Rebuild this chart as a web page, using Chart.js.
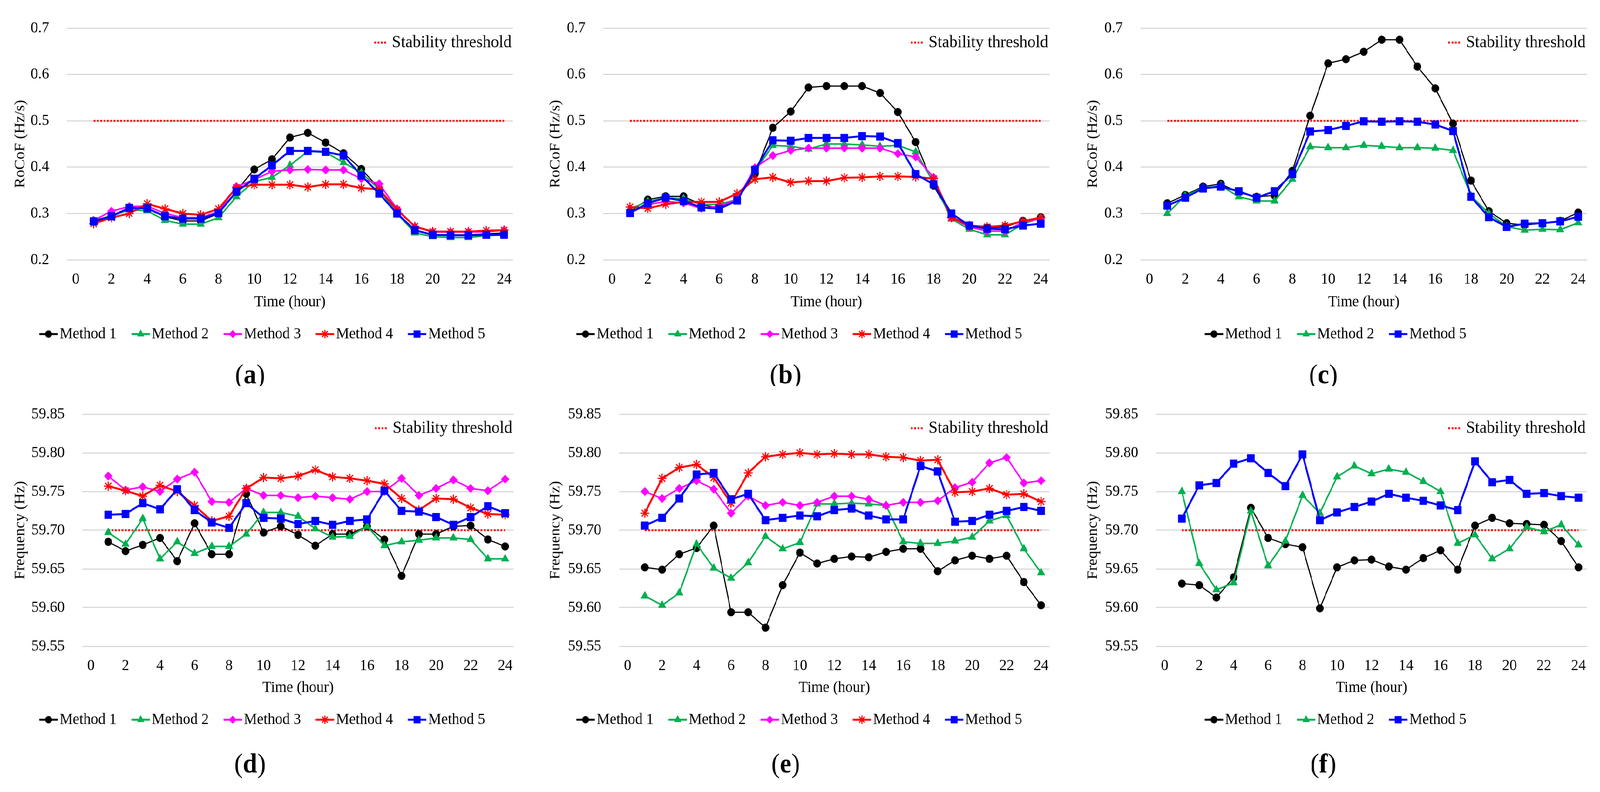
<!DOCTYPE html>
<html>
<head>
<meta charset="utf-8">
<title>RoCoF and frequency per method</title>
<script src="https://cdn.jsdelivr.net/npm/chart.js@4.4.1/dist/chart.umd.min.js"></script>
<style>
  html, body { margin: 0; padding: 0; background: #ffffff; overflow: hidden; }
  #figure { position: relative; width: 4332px; height: 2027px; background: #ffffff; transform-origin: 0 0; }
  #figure canvas { position: absolute; }
</style>
</head>
<body>
<div id="figure">
  <canvas id="chartA" width="1444" height="988" style="left:0px;top:0px"></canvas>
  <canvas id="chartB" width="1444" height="988" style="left:1444px;top:0px"></canvas>
  <canvas id="chartC" width="1444" height="988" style="left:2888px;top:0px"></canvas>
  <canvas id="chartD" width="1444" height="1039" style="left:0px;top:988px"></canvas>
  <canvas id="chartE" width="1444" height="1039" style="left:1444px;top:988px"></canvas>
  <canvas id="chartF" width="1444" height="1039" style="left:2888px;top:988px"></canvas>
</div>
<script>
// ---- data ----
var hours = [1, 2, 3, 4, 5, 6, 7, 8, 9, 10, 11, 12, 13, 14, 15, 16, 17, 18, 19, 20, 21, 22, 23, 24];
var xTicks = [0, 2, 4, 6, 8, 10, 12, 14, 16, 18, 20, 22, 24];
var rocofTicks = [0.2, 0.3, 0.4, 0.5, 0.6, 0.7];
var freqTicks = [59.55, 59.60, 59.65, 59.70, 59.75, 59.80, 59.85];
var rocofLimit = 0.5;
var freqLimit = 59.70;
var methodNames = ['Method 1', 'Method 2', 'Method 3', 'Method 4', 'Method 5'];

// (a) RoCoF
var rocofA1 = [0.284, 0.295, 0.313, 0.311, 0.293, 0.284, 0.284, 0.300, 0.349, 0.395, 0.417, 0.464, 0.474, 0.453, 0.430, 0.396, 0.354, 0.300, 0.263, 0.254, 0.254, 0.254, 0.256, 0.258];
var rocofA2 = [0.285, 0.295, 0.308, 0.306, 0.285, 0.277, 0.277, 0.291, 0.336, 0.369, 0.378, 0.404, 0.434, 0.432, 0.410, 0.388, 0.352, 0.300, 0.258, 0.250, 0.248, 0.248, 0.252, 0.254];
var rocofA3 = [0.285, 0.305, 0.315, 0.316, 0.300, 0.291, 0.291, 0.304, 0.358, 0.373, 0.391, 0.394, 0.395, 0.394, 0.394, 0.375, 0.364, 0.310, 0.271, 0.260, 0.260, 0.260, 0.260, 0.264];
var rocofA4 = [0.278, 0.291, 0.300, 0.321, 0.310, 0.300, 0.297, 0.310, 0.356, 0.362, 0.362, 0.362, 0.357, 0.363, 0.363, 0.355, 0.352, 0.308, 0.272, 0.261, 0.261, 0.261, 0.263, 0.264];
var rocofA5 = [0.283, 0.294, 0.312, 0.311, 0.294, 0.289, 0.289, 0.301, 0.347, 0.375, 0.404, 0.435, 0.435, 0.433, 0.425, 0.382, 0.343, 0.300, 0.264, 0.254, 0.253, 0.253, 0.254, 0.254];

// (b) RoCoF
var rocofB1 = [0.304, 0.330, 0.337, 0.337, 0.319, 0.312, 0.330, 0.386, 0.485, 0.520, 0.572, 0.575, 0.575, 0.575, 0.560, 0.519, 0.454, 0.360, 0.293, 0.274, 0.269, 0.271, 0.284, 0.292];
var rocofB2 = [0.310, 0.326, 0.334, 0.332, 0.319, 0.320, 0.330, 0.391, 0.447, 0.445, 0.439, 0.450, 0.450, 0.448, 0.445, 0.447, 0.433, 0.367, 0.288, 0.266, 0.254, 0.254, 0.277, 0.291];
var rocofB3 = [0.302, 0.319, 0.326, 0.323, 0.311, 0.316, 0.330, 0.399, 0.425, 0.436, 0.441, 0.441, 0.441, 0.441, 0.441, 0.429, 0.422, 0.378, 0.291, 0.271, 0.262, 0.262, 0.281, 0.289];
var rocofB4 = [0.314, 0.311, 0.320, 0.325, 0.325, 0.325, 0.343, 0.374, 0.378, 0.367, 0.370, 0.370, 0.377, 0.378, 0.380, 0.380, 0.379, 0.375, 0.291, 0.274, 0.271, 0.274, 0.283, 0.291];
var rocofB5 = [0.301, 0.322, 0.334, 0.327, 0.313, 0.310, 0.328, 0.394, 0.458, 0.457, 0.463, 0.463, 0.463, 0.467, 0.466, 0.452, 0.385, 0.363, 0.300, 0.274, 0.267, 0.266, 0.274, 0.278];

// (c) RoCoF
var rocofC1 = [0.322, 0.340, 0.358, 0.364, 0.345, 0.336, 0.339, 0.392, 0.511, 0.624, 0.633, 0.649, 0.675, 0.675, 0.617, 0.570, 0.494, 0.371, 0.305, 0.279, 0.275, 0.279, 0.284, 0.302];
var rocofC2 = [0.300, 0.338, 0.355, 0.360, 0.336, 0.327, 0.327, 0.374, 0.444, 0.442, 0.442, 0.447, 0.445, 0.442, 0.442, 0.441, 0.436, 0.338, 0.300, 0.272, 0.264, 0.266, 0.265, 0.280];
var rocofC5 = [0.317, 0.334, 0.354, 0.358, 0.348, 0.334, 0.348, 0.385, 0.477, 0.480, 0.489, 0.499, 0.498, 0.499, 0.498, 0.492, 0.478, 0.336, 0.292, 0.271, 0.278, 0.279, 0.283, 0.293];

// (d) frequency
var freqD1 = [59.685, 59.673, 59.681, 59.690, 59.660, 59.709, 59.669, 59.669, 59.747, 59.697, 59.705, 59.694, 59.680, 59.695, 59.695, 59.705, 59.688, 59.641, 59.695, 59.695, 59.705, 59.706, 59.688, 59.679];
var freqD2 = [59.697, 59.682, 59.715, 59.663, 59.685, 59.670, 59.679, 59.679, 59.695, 59.723, 59.723, 59.718, 59.702, 59.691, 59.692, 59.705, 59.680, 59.685, 59.687, 59.690, 59.690, 59.688, 59.663, 59.663];
var freqD3 = [59.770, 59.752, 59.756, 59.750, 59.766, 59.775, 59.737, 59.736, 59.754, 59.745, 59.745, 59.742, 59.744, 59.742, 59.740, 59.750, 59.750, 59.767, 59.745, 59.754, 59.765, 59.754, 59.751, 59.766];
var freqD4 = [59.757, 59.751, 59.744, 59.758, 59.750, 59.732, 59.712, 59.718, 59.754, 59.768, 59.767, 59.770, 59.778, 59.769, 59.767, 59.764, 59.760, 59.741, 59.726, 59.741, 59.740, 59.729, 59.721, 59.720];
var freqD5 = [59.720, 59.721, 59.735, 59.727, 59.753, 59.726, 59.710, 59.703, 59.735, 59.716, 59.715, 59.708, 59.712, 59.707, 59.712, 59.714, 59.751, 59.725, 59.724, 59.717, 59.707, 59.717, 59.731, 59.722];

// (e) frequency
var freqE1 = [59.652, 59.649, 59.669, 59.677, 59.706, 59.594, 59.594, 59.574, 59.629, 59.671, 59.657, 59.663, 59.666, 59.665, 59.672, 59.676, 59.676, 59.647, 59.661, 59.667, 59.663, 59.667, 59.633, 59.603];
var freqE2 = [59.615, 59.603, 59.619, 59.682, 59.651, 59.638, 59.658, 59.692, 59.676, 59.684, 59.734, 59.734, 59.735, 59.734, 59.732, 59.685, 59.683, 59.683, 59.686, 59.691, 59.712, 59.719, 59.676, 59.645];
var freqE3 = [59.750, 59.741, 59.754, 59.764, 59.753, 59.722, 59.744, 59.732, 59.736, 59.732, 59.736, 59.744, 59.744, 59.740, 59.732, 59.736, 59.736, 59.738, 59.755, 59.762, 59.787, 59.794, 59.761, 59.764];
var freqE4 = [59.722, 59.767, 59.781, 59.785, 59.768, 59.735, 59.774, 59.795, 59.798, 59.800, 59.798, 59.799, 59.798, 59.798, 59.795, 59.794, 59.790, 59.791, 59.749, 59.750, 59.754, 59.746, 59.747, 59.737];
var freqE5 = [59.706, 59.716, 59.741, 59.772, 59.774, 59.740, 59.747, 59.713, 59.716, 59.719, 59.718, 59.726, 59.728, 59.719, 59.714, 59.714, 59.783, 59.776, 59.711, 59.712, 59.720, 59.725, 59.730, 59.725];

// (f) frequency
var freqF1 = [59.631, 59.629, 59.613, 59.639, 59.729, 59.690, 59.682, 59.678, 59.599, 59.652, 59.661, 59.662, 59.653, 59.649, 59.664, 59.674, 59.649, 59.706, 59.716, 59.709, 59.708, 59.707, 59.686, 59.652];
var freqF2 = [59.750, 59.657, 59.623, 59.632, 59.725, 59.654, 59.686, 59.745, 59.722, 59.769, 59.783, 59.773, 59.779, 59.775, 59.763, 59.750, 59.683, 59.694, 59.663, 59.676, 59.704, 59.698, 59.707, 59.681];
var freqF5 = [59.715, 59.758, 59.761, 59.786, 59.793, 59.774, 59.757, 59.798, 59.713, 59.723, 59.730, 59.737, 59.747, 59.742, 59.738, 59.732, 59.726, 59.789, 59.762, 59.765, 59.747, 59.748, 59.744, 59.742];

// ---- styles ----
var serif = '"Liberation Serif", "Times New Roman", serif';
var methodStyles = [
  { color: '#000000', line: 3, marker: 'circle', radius: 10 },
  { color: '#00B050', line: 4, marker: 'triangle', radius: 12 },
  { color: '#FF00FF', line: 4, marker: 'rectRot', radius: 11 },
  { color: '#FF0000', line: 5, marker: 'star', radius: 12 },
  { color: '#0000FF', line: 5, marker: 'rect', radius: 14 }
];

Chart.defaults.font.family = serif;
Chart.defaults.color = '#000000';

// the window may be narrower than 4332 css px, so squeeze the figure to fit it
var fig = document.getElementById('figure');
fig.style.transform = 'scale(' + (window.innerWidth / 4332) + ',' + (window.innerHeight / 2027) + ')';

// legends and panel letters are drawn after the chart
var panelExtras = {
  id: 'panelExtras',
  afterDraw: function (chart, args, opts) {
    var c = chart.ctx;
    var area = chart.chartArea;
    var sets = chart.data.datasets;
    c.save();
    c.textBaseline = 'middle';

    // threshold key, top right of the plot
    var key = sets[0];
    c.font = '44px ' + serif;
    c.textAlign = 'right';
    c.fillStyle = '#000000';
    var tx = area.right - 4;
    c.fillText(key.label, tx, opts.keyY);
    var tw = c.measureText(key.label).width;
    c.strokeStyle = key.borderColor;
    c.lineWidth = key.borderWidth;
    c.setLineDash(key.borderDash);
    c.beginPath();
    c.moveTo(tx - tw - 48, opts.keyY);
    c.lineTo(tx - tw - 12, opts.keyY);
    c.stroke();
    c.setLineDash([]);

    // method legend under the axis title
    c.font = '40px ' + serif;
    c.textAlign = 'left';
    var items = sets.slice(1);
    items.sort(function (p, q) { return q.order - p.order; });
    var total = 0;
    items.forEach(function (d, i) {
      total += 55 + c.measureText(d.label).width + (i < items.length - 1 ? 40 : 0);
    });
    var x = opts.legendX - total / 2;
    items.forEach(function (d) {
      c.strokeStyle = d.borderColor;
      c.lineWidth = 5;
      c.beginPath();
      c.moveTo(x, opts.legendY);
      c.lineTo(x + 50, opts.legendY);
      c.stroke();
      c.fillStyle = d.borderColor;
      c.lineWidth = d.pointBorderWidth;
      Chart.helpers.drawPoint(c, { pointStyle: d.pointStyle, radius: d.pointRadius * 0.9, rotation: 0, borderWidth: d.pointBorderWidth }, x + 25, opts.legendY);
      c.fillStyle = '#000000';
      c.fillText(d.label, x + 55, opts.legendY);
      x += 55 + c.measureText(d.label).width + 40;
    });

    // panel letter, e.g. (a)
    var y = opts.labelY;
    c.font = '70px ' + serif;
    var wOpen = c.measureText('(').width;
    c.font = 'bold 70px ' + serif;
    var wLetter = c.measureText(opts.letter).width;
    var lx = opts.labelX - (2 * wOpen + wLetter) / 2;
    c.font = '70px ' + serif;
    c.fillText('(', lx, y);
    c.fillText(')', lx + wOpen + wLetter, y);
    c.font = 'bold 70px ' + serif;
    c.fillText(opts.letter, lx + wOpen, y);
    c.restore();
  }
};

function makePanel(p) {
  var canvas = document.getElementById(p.id);
  var W = canvas.width, H = canvas.height;
  var axisH = p.xTitleY + 24 - p.bottom;
  var datasets = [{
    label: 'Stability threshold',
    data: hours.map(function (h) { return { x: h, y: p.limit }; }),
    borderColor: '#FF0000',
    borderWidth: 5,
    borderDash: [5, 4],
    pointRadius: 0,
    order: 10
  }];
  p.series.forEach(function (s) {
    var st = methodStyles[s.method];
    datasets.push({
      label: methodNames[s.method],
      data: hours.map(function (h, i) { return { x: h, y: s.values[i] }; }),
      borderColor: st.color,
      backgroundColor: st.color,
      borderWidth: st.line,
      pointStyle: st.marker,
      pointRadius: st.radius,
      pointBackgroundColor: st.color,
      pointBorderColor: st.color,
      pointBorderWidth: st.marker === 'star' ? 3 : 1,
      tension: 0,
      order: 5 - s.method
    });
  });

  return new Chart(canvas, {
    type: 'line',
    data: { datasets: datasets },
    options: {
      responsive: false,
      animation: false,
      devicePixelRatio: 1,
      layout: { padding: { left: 0, right: W - p.right, top: p.top, bottom: H - p.bottom - axisH } },
      plugins: {
        legend: { display: false },
        tooltip: { enabled: false },
        panelExtras: { keyY: p.keyY, legendX: p.legendX, legendY: p.legendY, labelX: p.labelX, labelY: p.labelY, letter: p.letter }
      },
      scales: {
        x: {
          type: 'linear',
          min: -0.5,
          max: 24.5,
          afterBuildTicks: function (s) { s.ticks = xTicks.map(function (v) { return { value: v }; }); },
          afterFit: function (s) { s.height = axisH; },
          grid: { display: false, drawTicks: false },
          border: { display: false },
          ticks: { font: { size: 40 }, color: '#000000', padding: 26, maxRotation: 0, autoSkip: false },
          title: { display: true, text: 'Time (hour)', font: { size: 40 }, color: '#000000', padding: 0 }
        },
        y: {
          min: p.yTicks[0],
          max: p.yTicks[p.yTicks.length - 1],
          afterBuildTicks: function (s) { s.ticks = p.yTicks.map(function (v) { return { value: v }; }); },
          afterFit: function (s) { s.width = p.left; },
          grid: { color: '#D9D9D9', lineWidth: 3, drawTicks: false },
          border: { display: false },
          ticks: {
            font: { size: 40 }, color: '#000000', padding: 48,
            callback: function (v) { return v.toFixed(p.decimals); }
          },
          title: { display: true, text: p.yTitle, font: { size: 40 }, color: '#000000', padding: { top: p.yTitleX - 24, bottom: 0 } }
        }
      }
    },
    plugins: [panelExtras]
  });
}

var topRow = { top: 65, bottom: 665, xTitleY: 773, keyY: 109, legendY: 855, labelY: 963, yTicks: rocofTicks, decimals: 1, limit: rocofLimit, yTitle: 'RoCoF (Hz/s)' };
var bottomRow = { top: 64, bottom: 666, xTitleY: 772, keyY: 108, legendY: 854, labelY: 971, yTicks: freqTicks, decimals: 2, limit: freqLimit, yTitle: 'Frequency (Hz)' };

function panel(row, extra) {
  var p = {};
  for (var k in row) p[k] = row[k];
  for (var j in extra) p[j] = extra[j];
  return p;
}

makePanel(panel(topRow, { id: 'chartA', letter: 'a', left: 181, right: 1389, yTitleX: 55, legendX: 710, labelX: 677,
  series: [{ method: 0, values: rocofA1 }, { method: 1, values: rocofA2 }, { method: 2, values: rocofA3 }, { method: 3, values: rocofA4 }, { method: 4, values: rocofA5 }] }));
makePanel(panel(topRow, { id: 'chartB', letter: 'b', left: 189, right: 1398, yTitleX: 60, legendX: 720, labelX: 683,
  series: [{ method: 0, values: rocofB1 }, { method: 1, values: rocofB2 }, { method: 2, values: rocofB3 }, { method: 3, values: rocofB4 }, { method: 4, values: rocofB5 }] }));
makePanel(panel(topRow, { id: 'chartC', letter: 'c', left: 200, right: 1409, yTitleX: 71, legendX: 728, labelX: 695,
  series: [{ method: 0, values: rocofC1 }, { method: 1, values: rocofC2 }, { method: 4, values: rocofC5 }] }));
makePanel(panel(bottomRow, { id: 'chartD', letter: 'd', left: 223, right: 1391, yTitleX: 55, legendX: 710, labelX: 677,
  series: [{ method: 0, values: freqD1 }, { method: 1, values: freqD2 }, { method: 2, values: freqD3 }, { method: 3, values: freqD4 }, { method: 4, values: freqD5 }] }));
makePanel(panel(bottomRow, { id: 'chartE', letter: 'e', left: 232, right: 1398, yTitleX: 60, legendX: 720, labelX: 683,
  series: [{ method: 0, values: freqE1 }, { method: 1, values: freqE2 }, { method: 2, values: freqE3 }, { method: 3, values: freqE4 }, { method: 4, values: freqE5 }] }));
makePanel(panel(bottomRow, { id: 'chartF', letter: 'f', left: 242, right: 1409, yTitleX: 71, legendX: 728, labelX: 695,
  series: [{ method: 0, values: freqF1 }, { method: 1, values: freqF2 }, { method: 4, values: freqF5 }] }));
</script>
</body>
</html>
